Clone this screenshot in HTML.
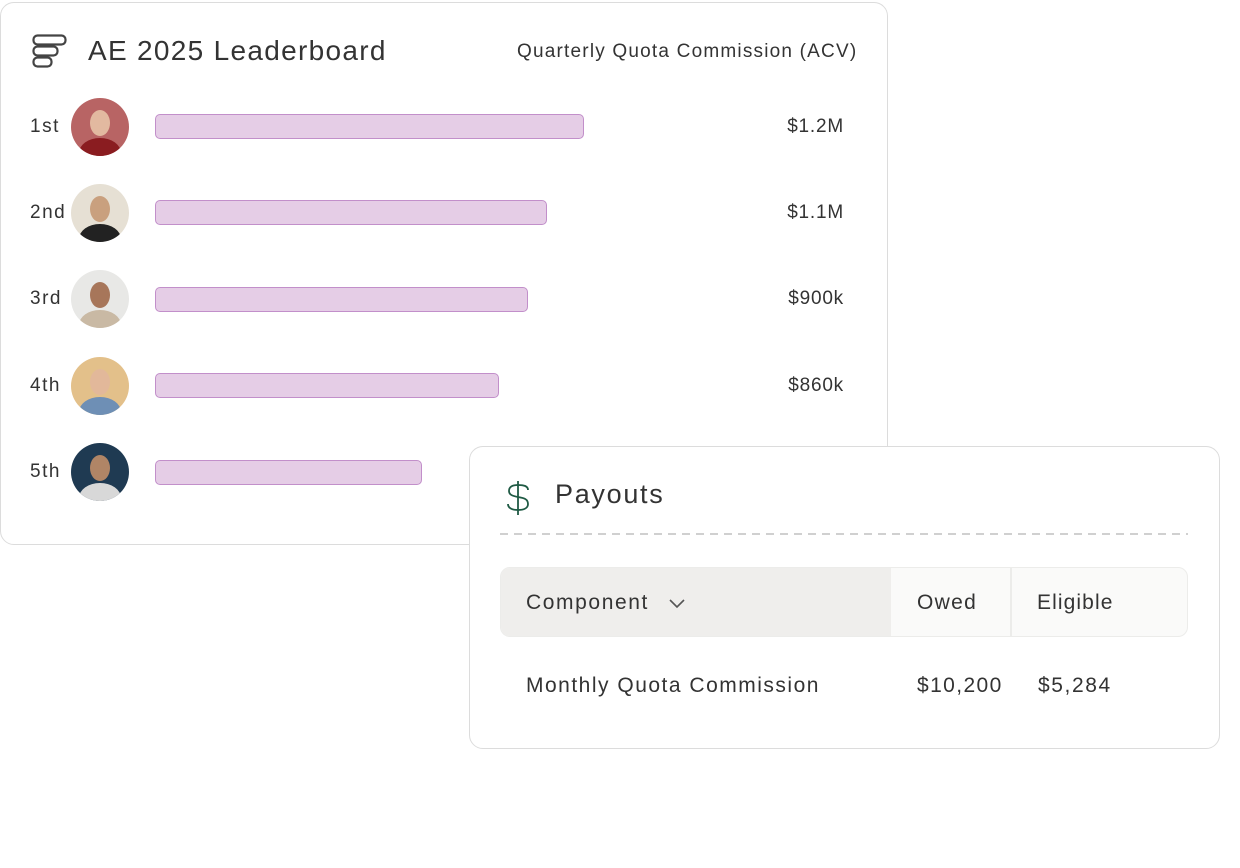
<!DOCTYPE html>
<html><head><meta charset="utf-8"><style>
*{margin:0;padding:0;box-sizing:border-box}
body{width:1240px;height:868px;background:#fff;position:relative;overflow:hidden;font-family:"Liberation Sans",sans-serif;color:#333;letter-spacing:1.3px}
.abs{position:absolute}
.card{position:absolute;background:#fff;border:1.5px solid #dcdcdc;border-radius:14px}
.rank{position:absolute;left:30px;font-size:19px;color:#333;letter-spacing:1.5px}
.av{position:absolute;left:71px;width:58px;height:58px;border-radius:50%;overflow:hidden}
.av .face{position:absolute;left:19px;top:12px;width:20px;height:26px;border-radius:50%}
.av .body{position:absolute;left:8px;top:40px;width:42px;height:30px;border-radius:50%}
.bar{position:absolute;left:155px;height:25px;background:#e5cde6;border:1.5px solid #c28fca;border-radius:5px}
.val{position:absolute;right:396px;font-size:19px;color:#333;text-align:right;letter-spacing:0.8px}
</style></head><body>
<div class="card" style="left:0;top:2px;width:888px;height:543px"></div>
<svg class="abs" style="left:32px;top:34px" width="36" height="36" viewBox="0 0 36 36" fill="none" stroke="#444" stroke-width="2.2">
<rect x="1.5" y="1.5" width="32" height="9" rx="4"/><rect x="1.5" y="12.5" width="24" height="9" rx="4"/><rect x="1.5" y="23.5" width="18" height="9" rx="4"/></svg>
<div class="abs" style="left:88px;top:35px;font-size:28px;color:#333;letter-spacing:1.3px">AE 2025 Leaderboard</div>
<div class="abs" style="left:517px;top:41px;font-size:19px;color:#333;letter-spacing:1.2px">Quarterly Quota Commission (ACV)</div>

<div class="rank" style="top:116px">1st</div>
<div class="av" style="top:98px;background:#b86464"><div class="body" style="background:#8a1c20"></div><div class="face" style="background:#e2b9a0"></div></div>
<div class="bar" style="top:114px;width:429px"></div>
<div class="val" style="top:116px">$1.2M</div>

<div class="rank" style="top:202px">2nd</div>
<div class="av" style="top:184px;background:#e6e0d4"><div class="body" style="background:#222"></div><div class="face" style="background:#c9a07e"></div></div>
<div class="bar" style="top:200px;width:392px"></div>
<div class="val" style="top:202px">$1.1M</div>

<div class="rank" style="top:288px">3rd</div>
<div class="av" style="top:270px;background:#e8e8e6"><div class="body" style="background:#c9b9a4"></div><div class="face" style="background:#a7765a"></div></div>
<div class="bar" style="top:287px;width:373px"></div>
<div class="val" style="top:288px">$900k</div>

<div class="rank" style="top:375px">4th</div>
<div class="av" style="top:357px;background:#e3c08a"><div class="body" style="background:#6e8fb5"></div><div class="face" style="background:#e2b89a"></div></div>
<div class="bar" style="top:373px;width:344px"></div>
<div class="val" style="top:375px">$860k</div>

<div class="rank" style="top:461px">5th</div>
<div class="av" style="top:443px;background:#1f3a52"><div class="body" style="background:#d8d8d8"></div><div class="face" style="background:#b08566"></div></div>
<div class="bar" style="top:460px;width:267px"></div>

<div class="card" style="left:469px;top:446px;width:751px;height:303px"></div>
<svg class="abs" style="left:504px;top:480px" width="30" height="36" viewBox="0 0 30 36" fill="none" stroke="#1f5a44" stroke-width="1.8">
<path d="M14 1 V35"/><path d="M24 10 C24 6 20 5 14 5 C8 5 5 7 5 11 C5 15 9 16 14 17 C20 18 24 19 24 24 C24 28 20 30 14 30 C8 30 4 28 4 24"/></svg>
<div class="abs" style="left:555px;top:479px;font-size:27px;color:#333;letter-spacing:1.7px">Payouts</div>
<div class="abs" style="left:500px;top:533px;width:688px;height:2px;background:repeating-linear-gradient(90deg,#d0d0d0 0 8px,transparent 8px 14px)"></div>
<div class="abs" style="left:500px;top:567px;width:688px;height:70px;border:1.5px solid #ececea;border-radius:10px;background:#fafaf9;overflow:hidden">
<div class="abs" style="left:0;top:0;width:390px;height:70px;background:#efeeec"></div>
<div class="abs" style="left:509px;top:0;width:1.5px;height:70px;background:#ececea"></div>
</div>
<div class="abs" style="left:526px;top:591px;font-size:21px;letter-spacing:1.6px">Component</div>
<svg class="abs" style="left:668px;top:597px" width="18" height="12"><path d="M2 3 L9 10 L16 3" fill="none" stroke="#555" stroke-width="1.6"/></svg>
<div class="abs" style="left:917px;top:591px;font-size:21px;letter-spacing:1.3px">Owed</div>
<div class="abs" style="left:1037px;top:591px;font-size:21px;letter-spacing:1.1px">Eligible</div>
<div class="abs" style="left:526px;top:674px;font-size:21px;letter-spacing:1.5px">Monthly Quota Commission</div>
<div class="abs" style="left:917px;top:674px;font-size:21px;letter-spacing:1.4px">$10,200</div>
<div class="abs" style="left:1038px;top:674px;font-size:21px;letter-spacing:1.6px">$5,284</div>
</body></html>
